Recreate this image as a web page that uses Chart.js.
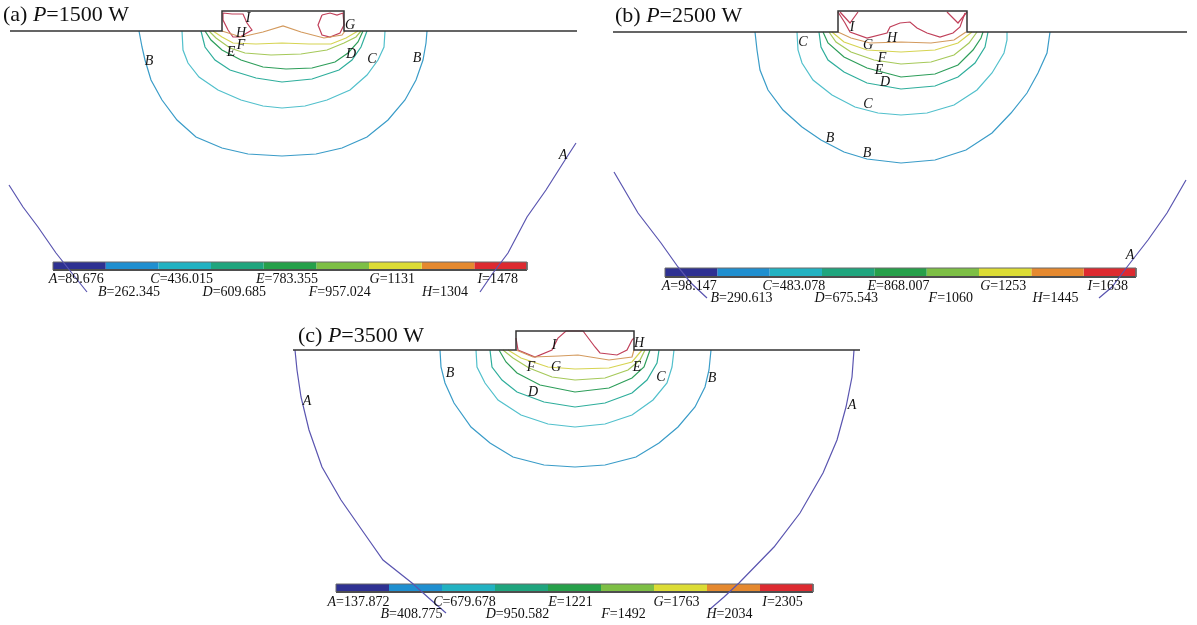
<!DOCTYPE html>
<html>
<head>
<meta charset="utf-8">
<script src="https://cdn.jsdelivr.net/npm/chart.js@4/dist/chart.umd.min.js"></script>
<style>
  html, body { margin: 0; padding: 0; background: #fff; }
  #page { position: relative; width: 1197px; height: 625px; overflow: hidden; }
  #page canvas { position: absolute; }
</style>
</head>
<body>
<div id="page">
  <canvas id="pa" width="595" height="310" style="left:0;top:0"></canvas>
  <canvas id="pb" width="597" height="310" style="left:600px;top:0"></canvas>
  <canvas id="pc" width="600" height="307" style="left:280px;top:318px"></canvas>
</div>
<script>
// contour levels (same letters in all three panels)
const levels = ["A", "B", "C", "D", "E", "F", "G", "H", "I"];
const powers = [1500, 2500, 3500];
const values1500 = [89.676, 262.345, 436.015, 609.685, 783.355, 957.024, 1131, 1304, 1478];
const values2500 = [98.147, 290.613, 483.078, 675.543, 868.007, 1060, 1253, 1445, 1638];
const values3500 = [137.872, 408.775, 679.678, 950.582, 1221, 1492, 1763, 2034, 2305];

// cross-section coordinates: x from clad centre, y = depth below substrate surface
const surface1500 = [[-273, 0], [-61, 0], [-61, -20], [61, -20], [61, 0], [294, 0]];
const surface2500 = [[-289, 0], [-64, 0], [-64, -21], [65, -21], [65, 0], [285, 0]];
const surface3500 = [[-282, 0], [-59, 0], [-59, -19], [59, -19], [59, 0], [285, 0]];

const curves1500 = [
  ["A", [[-274, 154], [-260, 176], [-245, 196], [-227, 222], [-208, 246], [-196, 261]]],
  ["A", [[293, 112], [282, 129], [263, 159], [244, 186], [225, 222], [210, 242], [197, 261]]],
  ["B", [[-144, 0], [-141, 16], [-138, 29], [-132, 49], [-121, 69], [-106, 89], [-87, 106], [-61, 117], [-35, 123], [-1, 125], [33, 123], [59, 117], [84, 106], [105, 89], [122, 69], [133, 49], [140, 29], [143, 12], [144, 0]]],
  ["C", [[-101, 0], [-100, 19], [-95, 32], [-84, 46], [-65, 59], [-42, 69], [-20, 75], [-1, 77], [22, 75], [44, 69], [67, 59], [84, 44], [95, 29], [101, 16], [102, 0]]],
  ["D", [[-82, 0], [-78, 16], [-68, 29], [-53, 39], [-27, 47], [-1, 51], [29, 48], [56, 39], [69, 29], [78, 16], [84, 0]]],
  ["E", [[-78, 0], [-72, 9], [-61, 19], [-42, 29], [-20, 36], [3, 38], [29, 37], [52, 31], [65, 22], [75, 11], [80, 0]]],
  ["F", [[-74, 0], [-67, 7], [-53, 17], [-38, 22], [-12, 24], [18, 23], [44, 19], [61, 12], [73, 6], [78, 0]]],
  ["G", [[-70, 0], [-61, 6], [-50, 12], [-27, 13], [-1, 12], [26, 13], [48, 13], [63, 7], [75, 0]]],
  ["H", [[-61, 0], [-42, 6], [-20, 1], [0, -5], [18, 1], [41, 7], [59, 4], [62, 0]]],
  ["I", [[-60, -18], [-51, -17], [-40, -17], [-36, -8], [-31, -1], [-43, 6], [-50, 6], [-55, -1], [-60, -11], [-60, -18]]],
  ["I", [[39, -16], [47, -18], [54, -16], [60, -18], [61, -6], [57, 2], [47, 6], [39, 4], [35, -6], [39, -16]]]
];
const tags1500 = [["A", 280, 124], ["B", -134, 30], ["B", 134, 27], ["C", 89, 28], ["D", 68, 23],
  ["E", -52, 21], ["F", -42, 14], ["G", 67, -6], ["H", -42, 2], ["I", -35, -13]];

const curves2500 = [
  ["A", [[-288, 140], [-264, 181], [-241, 211], [-224, 235], [-211, 251], [-195, 266]]],
  ["A", [[284, 148], [265, 181], [246, 208], [225, 235], [210, 255], [197, 266]]],
  ["B", [[-147, 0], [-145, 18], [-142, 38], [-134, 58], [-119, 78], [-100, 95], [-81, 108], [-58, 120], [-35, 127], [-1, 131], [33, 128], [64, 118], [90, 101], [109, 81], [125, 61], [136, 41], [145, 21], [148, 0]]],
  ["C", [[-105, 0], [-104, 18], [-100, 31], [-89, 48], [-70, 63], [-47, 75], [-24, 81], [-1, 83], [25, 81], [52, 73], [75, 58], [90, 41], [102, 21], [105, 8], [105, 0]]],
  ["D", [[-83, 0], [-81, 15], [-74, 28], [-58, 40], [-35, 51], [-1, 57], [33, 54], [56, 45], [73, 31], [83, 15], [86, 0]]],
  ["E", [[-79, 0], [-74, 11], [-58, 25], [-35, 36], [-1, 45], [33, 42], [56, 33], [71, 18], [79, 6], [81, 0]]],
  ["F", [[-73, 0], [-66, 10], [-51, 20], [-28, 28], [-1, 32], [29, 30], [52, 23], [67, 11], [75, 0]]],
  ["G", [[-70, 0], [-58, 10], [-35, 18], [-1, 20], [33, 18], [56, 11], [70, 0]]],
  ["H", [[-64, 0], [-51, 6], [-32, 11], [-1, 10], [29, 11], [52, 8], [64, 0]]],
  ["I", [[-64, -20], [-57, -9], [-52, 0], [-35, 6], [-15, 1], [-12, -5], [-2, -9], [8, -10], [15, -4], [25, 1], [38, 5], [51, 1], [58, -5], [63, -19]]],
  ["I", [[-62, -20], [-52, -9], [-44, -20]]],
  ["I", [[45, -20], [56, -9], [65, -20]]]
];
const tags2500 = [["A", 228, 223], ["B", -72, 106], ["B", -35, 121], ["C", -99, 10], ["C", -34, 72],
  ["D", -17, 50], ["E", -23, 38], ["F", -20, 26], ["G", -34, 13], ["H", -10, 6], ["I", -50, -5]];

const curves3500 = [
  ["A", [[-280, 0], [-278, 20], [-274, 47], [-266, 80], [-253, 117], [-234, 150], [-211, 183], [-192, 210], [-163, 233], [-144, 250], [-129, 263]]],
  ["A", [[279, 0], [277, 27], [271, 57], [262, 90], [248, 123], [225, 163], [199, 197], [164, 233], [149, 247], [134, 260]]],
  ["B", [[-135, 0], [-134, 17], [-130, 33], [-121, 53], [-104, 77], [-85, 93], [-62, 107], [-31, 115], [0, 117], [30, 115], [61, 107], [84, 93], [103, 77], [120, 57], [130, 37], [134, 20], [136, 0]]],
  ["C", [[-99, 0], [-98, 17], [-90, 33], [-77, 50], [-54, 65], [-27, 74], [0, 77], [30, 74], [57, 65], [78, 50], [92, 33], [97, 17], [99, 0]]],
  ["D", [[-85, 0], [-83, 17], [-73, 30], [-58, 42], [-31, 52], [0, 57], [30, 53], [57, 43], [72, 30], [82, 13], [84, 0]]],
  ["E", [[-76, 0], [-69, 12], [-58, 23], [-35, 35], [0, 42], [34, 38], [57, 28], [69, 17], [75, 0]]],
  ["F", [[-72, 0], [-62, 8], [-46, 18], [-23, 27], [0, 30], [30, 28], [53, 20], [65, 10], [70, 0]]],
  ["G", [[-67, 0], [-54, 8], [-27, 17], [0, 19], [34, 18], [57, 12], [67, 0]]],
  ["H", [[-59, 0], [-42, 7], [-16, 6], [3, 5], [34, 10], [57, 7], [59, 0]]],
  ["I", [[-59, -12], [-57, 0], [-40, 7], [-23, 0], [-17, -12], [-9, -19], [8, -19], [20, -3], [25, 3], [42, 5], [52, 0], [57, -10], [59, -12]]]
];
const tags3500 = [["A", -268, 51], ["A", 277, 55], ["B", -125, 23], ["B", 137, 28], ["C", 86, 27],
  ["D", -42, 42], ["E", 62, 17], ["F", -44, 17], ["G", -19, 17], ["H", 64, -7], ["I", -21, -5]];

// styling
const barColors = ["#2e3192", "#1f8fd0", "#22b2c2", "#1fa57e", "#26a04a", "#7dbf45", "#dcdc35", "#e5892f", "#dd2a30"];
const lineColors = ["#5a55b0", "#3a9cc8", "#52c0cc", "#2fae9c", "#2e9e5a", "#a6c95a", "#d6d452", "#d39a5e", "#c0405a"];
const SERIF = '"Liberation Serif", "DejaVu Serif", serif';

function pts(list) { return list.map(([x, y]) => ({ x, y })); }

// one panel = one chart; 1 unit = 1 px
function panel(id, cfg) {
  const ds = [];
  cfg.curves.forEach(([lv, p]) => {
    ds.push({ data: pts(p), borderColor: lineColors[levels.indexOf(lv)], borderWidth: 1.2, order: 1 });
  });
  ds.push({ data: pts(cfg.surface), borderColor: "#333", borderWidth: 1.5, order: 0 });

  // colour bar, drawn as thick line segments through the scales
  const cb = cfg.bar;
  const w = (cb.x1 - cb.x0) / levels.length;
  levels.forEach((lv, i) => {
    ds.push({ data: [{ x: cb.x0 + i * w, y: cb.y }, { x: cb.x0 + (i + 1) * w, y: cb.y }],
      borderColor: barColors[i], borderWidth: cb.h, borderCapStyle: "butt", order: 5 });
  });
  ds.push({ data: pts([[cb.x0, cb.y - cb.h / 2], [cb.x1, cb.y - cb.h / 2], [cb.x1, cb.y + cb.h / 2], [cb.x0, cb.y + cb.h / 2], [cb.x0, cb.y - cb.h / 2]]),
    borderColor: "#6a6a6a", borderWidth: 1, order: 4 });
  ds.push({ data: pts([[cb.x0, cb.y + cb.h / 2], [cb.x1, cb.y + cb.h / 2]]), borderColor: "#333", borderWidth: 2, order: 4 });

  ds.forEach(d => { d.showLine = true; d.pointRadius = 0; d.fill = false; d.tension = 0; d.clip = false; });

  const textPlugin = {
    id: "txt" + id,
    afterDatasetsDraw(chart) {
      const { ctx, scales: { x, y } } = chart;
      ctx.save();
      ctx.fillStyle = "#111";
      ctx.textBaseline = "middle";
      // title
      const tx = x.getPixelForValue(cfg.title[0]), ty = y.getPixelForValue(cfg.title[1]);
      const parts = [["(" + cfg.tag + ") ", ""], ["P", "italic "], ["=" + cfg.power + " W", ""]];
      let cx = tx;
      parts.forEach(([s, st]) => {
        ctx.font = st + "22px " + SERIF;
        ctx.textAlign = "left";
        ctx.fillText(s, cx, ty);
        cx += ctx.measureText(s).width;
      });
      // contour letters
      ctx.font = "italic 14px " + SERIF;
      ctx.textAlign = "center";
      cfg.tags.forEach(([lv, px, py]) => ctx.fillText(lv, x.getPixelForValue(px), y.getPixelForValue(py)));
      // colour bar labels
      levels.forEach((lv, i) => {
        const mid = x.getPixelForValue(cb.x0 + (i + 0.5) * w);
        const yy = y.getPixelForValue(i % 2 === 0 ? cb.row1 : cb.row2);
        const a = lv, b = "=" + cfg.values[i];
        ctx.font = "italic 14px " + SERIF;
        const wa = ctx.measureText(a).width;
        ctx.font = "14px " + SERIF;
        const wb = ctx.measureText(b).width;
        const sx = mid - (wa + wb) / 2 + cb.shift;
        ctx.textAlign = "left";
        ctx.font = "italic 14px " + SERIF;
        ctx.fillText(a, sx, yy);
        ctx.font = "14px " + SERIF;
        ctx.fillText(b, sx + wa, yy);
      });
      ctx.restore();
    }
  };

  new Chart(document.getElementById(id), {
    type: "scatter",
    data: { datasets: ds },
    options: {
      responsive: false,
      animation: false,
      events: [],
      layout: { padding: 0 },
      plugins: { legend: { display: false }, tooltip: { enabled: false } },
      scales: {
        x: { type: "linear", display: false, min: cfg.xr[0], max: cfg.xr[1] },
        y: { type: "linear", display: false, reverse: true, min: cfg.yr[0], max: cfg.yr[1] }
      }
    },
    plugins: [textPlugin]
  });
}

panel("pa", {
  tag: "a", power: powers[0], values: values1500, curves: curves1500, tags: tags1500, surface: surface1500,
  xr: [-283, 312], yr: [-31, 279], title: [-280, -16],
  bar: { x0: -230, x1: 244, y: 235, h: 8, row1: 248, row2: 261, shift: -3 }
});
panel("pb", {
  tag: "b", power: powers[1], values: values2500, curves: curves2500, tags: tags2500, surface: surface2500,
  xr: [-302, 295], yr: [-32, 278], title: [-287, -16],
  bar: { x0: -237, x1: 234, y: 240.5, h: 9, row1: 254, row2: 266, shift: -2 }
});
panel("pc", {
  tag: "c", power: powers[2], values: values3500, curves: curves3500, tags: tags3500, surface: surface3500,
  xr: [-295, 305], yr: [-32, 275], title: [-277, -14],
  bar: { x0: -239, x1: 238, y: 238, h: 8, row1: 252, row2: 264, shift: -4 }
});
</script>
</body>
</html>
